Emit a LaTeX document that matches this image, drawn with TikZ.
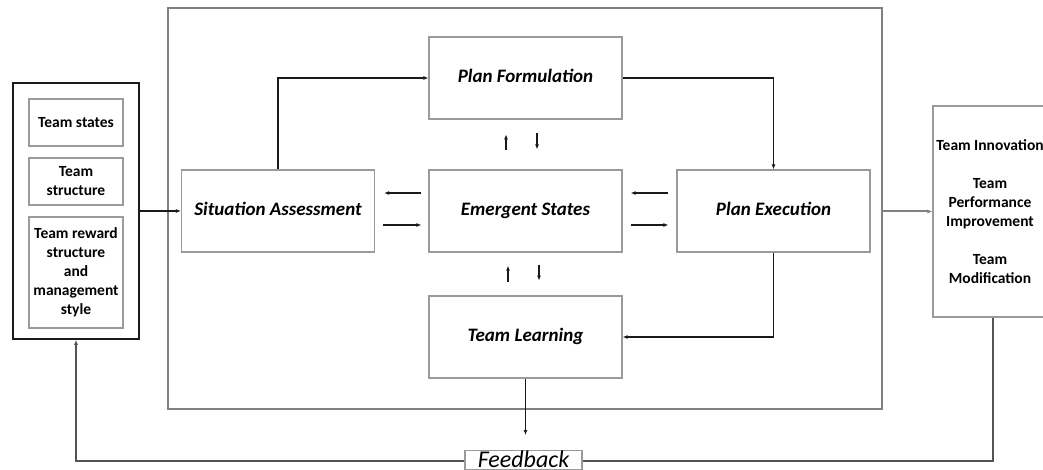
\documentclass[tikz,border=0pt]{standalone}
\usepackage{fontspec}
\setmainfont{Carlito}
\usetikzlibrary{arrows.meta}

\begin{document}
\begin{tikzpicture}[x=1pt,y=-1pt]
	\definecolor{cBox}{HTML}{9A9A9A}
	\definecolor{cFrame}{HTML}{808080}
	\definecolor{cLine}{HTML}{1A1A1A}
	\definecolor{cFeed}{HTML}{555555}

	\tikzset{
		stage/.style={draw=cBox, line width=1.2, minimum width=193, minimum height=82, inner sep=0,
			text height=13, text depth=4, font=\fontsize{19}{22}\selectfont\bfseries\itshape},
		factor/.style={draw=cBox, line width=1.2, minimum width=94, inner sep=0, align=center,
			font=\fontsize{15.5}{19}\selectfont\bfseries},
		link/.style={cLine, line width=1.2, -{Latex[length=5,width=4]}}
	}

	\useasboundingbox (0,0) rectangle (1043,470);
	\clip (0,0) rectangle (1043,470);

	% frame and the five stages
	\node[draw=cFrame, line width=2.2, minimum width=714, minimum height=401, inner sep=0] (frame) at (525,208.5) {};
	\node[stage] (pf) at (525.5,78) {Plan Formulation};
	\node[stage] (sa) at (278,211) {Situation Assessment};
	\node[stage] (es) at (525.5,211) {Emergent States};
	\node[stage] (pe) at (773.5,211) {Plan Execution};
	\node[stage] (tl) at (525.5,337) {Team Learning};

	% inputs
	\node[draw=cLine, line width=1.6, minimum width=126, minimum height=256, inner sep=0] (ctx) at (76,211) {};
	\node[factor, minimum height=47] (ts) at (76,122.5) {Team states};
	\node[factor, minimum height=47] (tst) at (76,181.5) {Team\\structure};
	\node[factor, minimum height=111] (trw) at (76,272.5) {Team reward\\structure\\and\\management\\style};

	% outcomes
	\node[draw=cBox, line width=1.2, minimum width=114, minimum height=211, inner sep=0, align=center,
		font=\fontsize{15.5}{19}\selectfont\bfseries] (res) at (990,211.5)
		{Team Innovation\\[19pt]Team\\Performance\\Improvement\\[19pt]Team\\Modification};

	\node[draw=cBox, line width=1.2, minimum width=117, inner sep=1, text height=16, text depth=1.5,
		anchor=north, font=\fontsize{24}{28}\selectfont\itshape] (fb) at (523.5,449.5) {Feedback};
	\coordinate (fbw) at (fb.west |- 0,461);
	\coordinate (fbe) at (fb.east |- 0,461);

	% main loop
	\draw[link] (ctx.east) -- (sa.west);
	\draw[link] (sa.north) |- (pf.west);
	\draw[link] (pf.east) -| (pe.north);
	\draw[link] (pe.south) |- (tl.east);
	\coordinate (tlout) at (525.5,435);
	\draw[link] (tl.south) -- (tlout);

	% exchanges with the emergent states
	\draw[link] ([xshift=-7,yshift=18]es.west) -- ([xshift=9,yshift=18]sa.east);
	\draw[link] ([xshift=8,yshift=-14]sa.east) -- ([xshift=-7,yshift=-14]es.west);
	\draw[link] ([xshift=-8,yshift=18]pe.west) -- ([xshift=8,yshift=18]es.east);
	\draw[link] ([xshift=8,yshift=-14]es.east) -- ([xshift=-8,yshift=-14]pe.west);
	\draw[link] ([xshift=-19.5,yshift=19]es.north) -- ([xshift=-19.5,yshift=35]es.north);
	\draw[link] ([xshift=11.5,yshift=36]es.north) -- ([xshift=11.5,yshift=20]es.north);
	\draw[link] ([xshift=-17.5,yshift=-29]es.south) -- ([xshift=-17.5,yshift=-13]es.south);
	\draw[link] ([xshift=13.5,yshift=-12]es.south) -- ([xshift=13.5,yshift=-28]es.south);

	% outcome and feedback
	\draw[link, draw=cFrame, fill=cFrame, line width=2] (res.west -| frame.east) -- (res.west);
	\draw[cFeed, line width=1.5] ([xshift=3]res.south) |- (fbe);
	\draw[link, draw=cFeed, line width=1.5] (fbw) -| (ctx.south);
\end{tikzpicture}
\end{document}
